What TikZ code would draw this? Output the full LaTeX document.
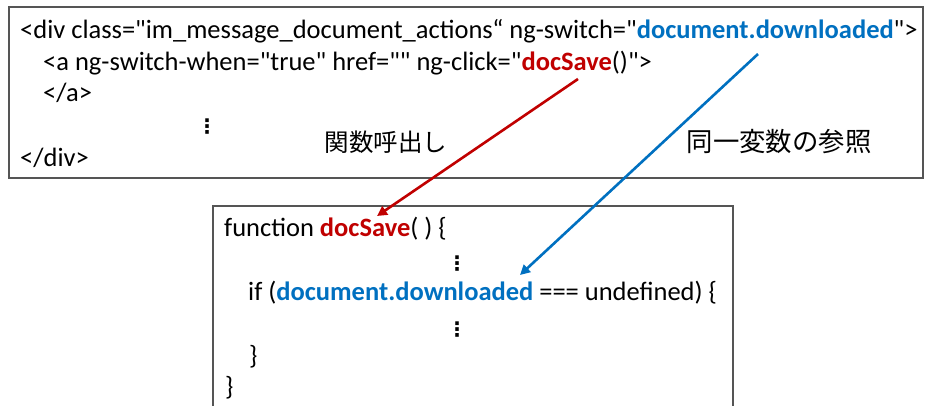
\documentclass[tikz,border=0pt]{standalone}
\usepackage{fontspec}
\setmainfont{Carlito}[Ligatures=TeXOff]
\newfontfamily\jpfont{Noto Sans CJK JP}
\newfontfamily\symfont{DejaVu Sans}
\usetikzlibrary{arrows.meta}
\definecolor{callred}{HTML}{C00000}
\definecolor{varblue}{HTML}{0070C0}
\definecolor{frame}{HTML}{555555}
\newcommand{\fn}[1]{\textcolor{callred}{\textbf{#1}}}
\newcommand{\vr}[1]{\textcolor{varblue}{\textbf{#1}}}
\begin{document}
\begin{tikzpicture}[x=1pt,y=-1pt,
  code/.style={anchor=base west, inner sep=0pt, font=\fontsize{26.5}{30}\selectfont},
  note/.style={anchor=center, inner sep=0pt, font=\jpfont\fontsize{24.5}{28}\selectfont},
  dotsmark/.style={anchor=center, inner sep=0pt, font=\symfont\bfseries\fontsize{20}{20}\selectfont},
  boxline/.style={draw=frame, line width=1.2pt},
  link/.style={line width=2.6pt, -{Triangle[length=10pt,width=10pt]}, shorten >=0pt}]
\useasboundingbox (0,0) rectangle (925,405);

% HTML template box
\draw[boxline] (9,7) rectangle (923,178);
\node[code] (l1) at (20,38) {<div class="im\_message\_document\_actions“ ng-switch="\vr{document.downloaded}">};
\node[code] (l2) at (43,70) {<a ng-switch-when="true" href="" ng-click="\fn{docSave}()">};
\node[code] (l3) at (43,101) {</a>};
\node[dotsmark] (d1) at (207,127) {⋮};
\node[code] (l4) at (20,166) {</div>};

\node[note] (callnote) at (386,142) {関数呼出し};
\node[note, font=\jpfont\fontsize{26.4}{30}\selectfont] (refnote) at (779,142) {同一変数の参照};

% JavaScript function box (open at the bottom)
\draw[boxline] (213,410) -- (213,206) -- (733,206) -- (733,410);
\node[code] (f1) at (224,236) {function \fn{docSave}( ) \{};
\node[dotsmark] (d2) at (457,264) {⋮};
\node[code] (f2) at (248,300) {if (\vr{document.downloaded} === undefined) \{};
\node[dotsmark] (d3) at (457,330) {⋮};
\node[code] (f3) at (249,364) {\}};
\node[code] (f4) at (225,395) {\}};

% connectors
\coordinate (redfrom) at (578,79);
\coordinate (redto) at (377,216);
\coordinate (bluefrom) at (758,54);
\coordinate (blueto) at (520,275);
\draw[link, callred] (redfrom) -- (redto);
\draw[link, varblue] (bluefrom) -- (blueto);
\end{tikzpicture}
\end{document}
